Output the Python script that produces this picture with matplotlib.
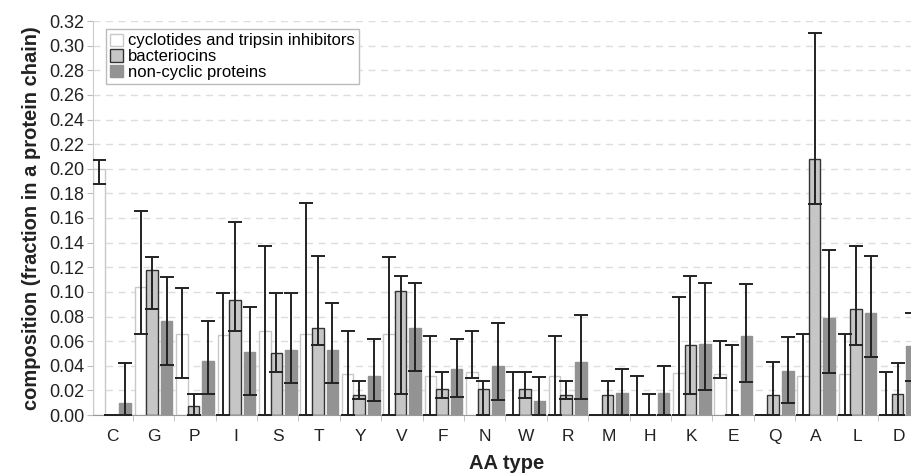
import matplotlib.pyplot as plt
import numpy as np

plt.rcParams['font.family'] = ['Liberation Sans', 'DejaVu Sans']

aa = ['C', 'G', 'P', 'I', 'S', 'T', 'Y', 'V', 'F', 'N',
      'W', 'R', 'M', 'H', 'K', 'E', 'Q', 'A', 'L', 'D']

# cyclotides and tripsin inhibitors
cyc = [0.200, 0.104, 0.066, 0.065, 0.068, 0.066, 0.033, 0.066, 0.032, 0.035,
       0.000, 0.032, 0.000, 0.000, 0.034, 0.033, 0.000, 0.032, 0.033, 0.000]
cyc_lo = [0.188, 0.066, 0.030, 0.000, 0.000, 0.000, 0.000, 0.000, 0.000, 0.030,
          0.000, 0.000, 0.000, 0.000, 0.000, 0.030, 0.000, 0.000, 0.000, 0.000]
cyc_hi = [0.207, 0.166, 0.103, 0.099, 0.137, 0.172, 0.068, 0.128, 0.064, 0.068,
          0.035, 0.064, 0.000, 0.032, 0.096, 0.060, 0.000, 0.066, 0.066, 0.035]

# bacteriocins
bac = [0.000, 0.118, 0.007, 0.093, 0.050, 0.071, 0.016, 0.101, 0.021, 0.021,
       0.021, 0.016, 0.016, 0.000, 0.057, 0.000, 0.016, 0.208, 0.086, 0.017]
bac_lo = [0.000, 0.086, 0.000, 0.068, 0.035, 0.057, 0.013, 0.017, 0.014, 0.000,
          0.014, 0.013, 0.000, 0.000, 0.017, 0.000, 0.000, 0.171, 0.057, 0.000]
bac_hi = [0.000, 0.128, 0.017, 0.157, 0.099, 0.129, 0.028, 0.113, 0.035, 0.028,
          0.035, 0.028, 0.028, 0.017, 0.113, 0.057, 0.043, 0.310, 0.137, 0.042]

# non-cyclic proteins
ncp = [0.010, 0.076, 0.044, 0.051, 0.053, 0.053, 0.032, 0.071, 0.037, 0.040,
       0.011, 0.043, 0.018, 0.018, 0.058, 0.064, 0.036, 0.079, 0.083, 0.056]
ncp_lo = [0.000, 0.041, 0.017, 0.016, 0.026, 0.026, 0.011, 0.036, 0.015, 0.012,
          0.000, 0.013, 0.000, 0.000, 0.020, 0.027, 0.010, 0.034, 0.047, 0.028]
ncp_hi = [0.042, 0.112, 0.076, 0.088, 0.099, 0.091, 0.062, 0.107, 0.062, 0.075,
          0.031, 0.081, 0.037, 0.040, 0.107, 0.106, 0.063, 0.134, 0.129, 0.083]

x = np.arange(len(aa))
w = 0.28

fig = plt.figure(figsize=(9.12, 4.74), dpi=100)
ax = fig.add_axes([93 / 912, 59 / 474, 819 / 912, 394 / 474])

series = [
    (cyc, cyc_lo, cyc_hi, -0.31, 'white', '#c8c8c8', 'cyclotides and tripsin inhibitors'),
    (bac, bac_lo, bac_hi, -0.03, '#c6c6c6', '#333333', 'bacteriocins'),
    (ncp, ncp_lo, ncp_hi, 0.32, '#939393', '#939393', 'non-cyclic proteins'),
]

for vals, lo, hi, off, fc, ec, name in series:
    vals = np.array(vals)
    err = [vals - np.array(lo), np.array(hi) - vals]
    ax.bar(x + off, vals, w, color=fc, edgecolor=ec, linewidth=1.0, label=name, zorder=2)
    ax.errorbar(x + off, vals, yerr=err, fmt='none', ecolor='#222222',
                elinewidth=1.4, capsize=5, capthick=1.4, zorder=3)

ax.set_xlim(-0.46, 19.32)
ax.set_ylim(0, 0.32)
ax.set_yticks(np.arange(0, 0.321, 0.02))
ax.set_yticklabels(['%.2f' % v for v in np.arange(0, 0.321, 0.02)])
ax.set_xticks(x)
ax.set_xticklabels(aa)
ax.set_xticks(x[:-1] + 0.5, minor=True)
ax.tick_params(axis='x', which='major', length=0, labelsize=12.5, pad=10, colors='#222222')
ax.tick_params(axis='x', which='minor', length=4, color='#bbbbbb')
ax.tick_params(axis='y', length=4, color='#bbbbbb', labelsize=13, labelcolor='#222222', pad=2)

ax.yaxis.grid(True, linestyle=(0, (5, 4)), color='#dddddd', linewidth=1, zorder=0)
ax.set_axisbelow(True)
for s in ['top', 'right']:
    ax.spines[s].set_visible(False)
ax.spines['left'].set_color('#cccccc')
ax.spines['bottom'].set_color('#999999')

ax.set_ylabel('composition (fraction in a protein chain)', fontsize=14.5,
              fontweight='bold', color='#222222', labelpad=6)
fig.text(507 / 912, 5 / 474, 'AA type', fontsize=14.5, fontweight='bold',
         color='#222222', ha='center', va='baseline')

leg = ax.legend(loc='upper left', bbox_to_anchor=(0.006, 1.0), fontsize=12,
                handlelength=0.75, handleheight=0.75, handletextpad=0.3,
                labelspacing=0.05, borderpad=0.25, fancybox=False, framealpha=1)
leg.get_frame().set_edgecolor('#bbbbbb')
leg.get_frame().set_linewidth(1)

fig.savefig('out.png', dpi=100)
